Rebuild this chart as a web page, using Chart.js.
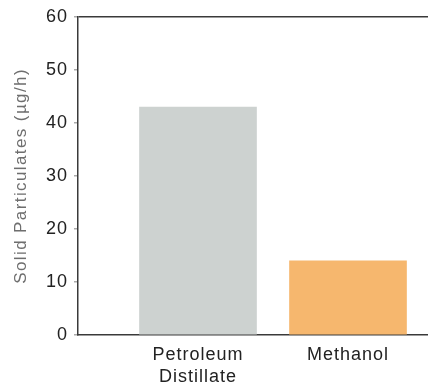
<!DOCTYPE html>
<html>
<head>
<meta charset="utf-8">
<script src="https://cdn.jsdelivr.net/npm/chart.js@4/dist/chart.umd.min.js"></script>
<style>
  html, body { margin: 0; padding: 0; background: #ffffff; overflow: hidden; }
  #wrap { position: relative; width: 428px; height: 384px; }
</style>
</head>
<body>
<div id="wrap"><canvas id="c"></canvas></div>
<script>
const categories = [['Petroleum', 'Distillate'], 'Methanol'];
const particulates = [43, 14];
const barColors = ['#cdd2d0', '#f6b76e'];
const yTicks = [0, 10, 20, 30, 40, 50, 60];
const yTitle = 'Solid Particulates (µg/h)';

const FONT = "'Liberation Sans', Arial, Helvetica, sans-serif";

const spacingPlugin = {
  id: 'spacing',
  beforeUpdate(chart) { chart.ctx.letterSpacing = '1px'; },
  beforeLayout(chart) { chart.ctx.letterSpacing = '1px'; },
  beforeDraw(chart) {
    chart.ctx.letterSpacing = '1px';
    const ys = chart.scales.y;
    if (ys && !ys._wrappedTitle) {
      const orig = ys.drawTitle.bind(ys);
      ys.drawTitle = function () {
        const ctx = this.ctx;
        ctx.letterSpacing = '1.4px';
        orig();
        ctx.letterSpacing = '1px';
      };
      ys._wrappedTitle = true;
    }
  }
};

new Chart(document.getElementById('c'), {
  type: 'bar',
  data: {
    datasets: [{
      data: particulates.map((v, i) => ({ x: i, y: v })),
      backgroundColor: barColors,
      borderWidth: 0,
      barThickness: 117
    }]
  },
  options: {
    responsive: true,
    maintainAspectRatio: false,
    animation: false,
    devicePixelRatio: 1,
    layout: { padding: { top: 15, right: 0, bottom: 0, left: 0 } },
    plugins: { legend: { display: false }, tooltip: { enabled: false } },
    scales: {
      x: {
        type: 'linear',
        min: -0.8,
        max: 1.5333,
        offset: false,
        afterBuildTicks(scale) { scale.ticks = categories.map((c, i) => ({ value: i })); },
        afterFit(scale) { scale.height = 49; },
        grid: { display: true, drawOnChartArea: false, drawTicks: false },
        border: { display: true, color: '#3a3a3a', width: 1.5 },
        ticks: {
          padding: 10,
          maxRotation: 0,
          autoSkip: false,
          color: '#222222',
          font: { family: FONT, size: 18, lineHeight: 1.17 },
          callback: (v) => categories[v]
        }
      },
      y: {
        min: 0,
        max: 60,
        afterBuildTicks(scale) { scale.ticks = yTicks.map(v => ({ value: v })); },
        afterFit(scale) { scale.width = 78; },
        grid: {
          drawOnChartArea: true,
          drawTicks: true,
          tickLength: 4,
          color: (ctx) => (ctx.tick && ctx.tick.value === 60) ? '#3a3a3a' : 'rgba(0,0,0,0)',
          lineWidth: 1.5,
          tickColor: '#aaaaaa'
        },
        border: { display: true, color: '#3a3a3a', width: 1.5 },
        ticks: {
          padding: 6,
          color: '#222222',
          font: { family: FONT, size: 18 }
        },
        title: {
          display: true,
          text: yTitle,
          color: '#6e6e6e',
          padding: { top: 11, bottom: 0 },
          font: { family: FONT, size: 17 }
        }
      }
    }
  },
  plugins: [spacingPlugin]
});
</script>
</body>
</html>
